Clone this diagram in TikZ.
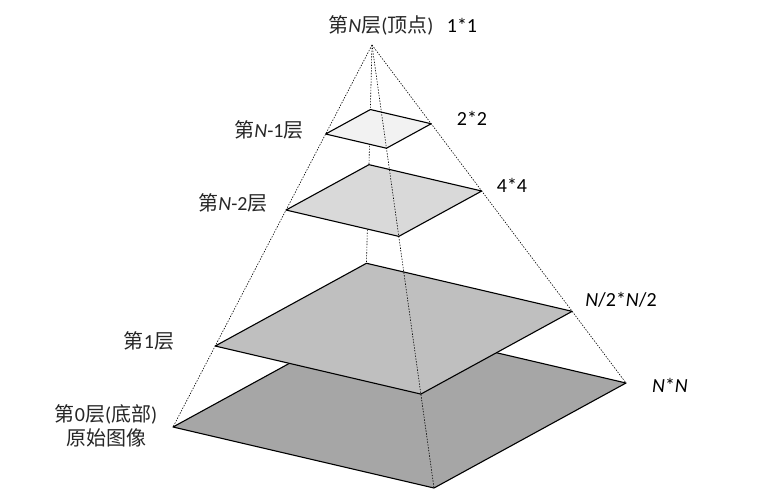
\documentclass[tikz,border=0pt]{standalone}
\usepackage{fontspec}
\setmainfont{Carlito}
\newfontfamily\cjk{Noto Sans CJK SC}
\usetikzlibrary{calc}
\definecolor{g0}{HTML}{A6A6A6}
\definecolor{g1}{HTML}{BFBFBF}
\definecolor{g2}{HTML}{D9D9D9}
\definecolor{g3}{HTML}{F2F2F2}
\begin{document}
\begin{tikzpicture}[x=1pt,y=-1pt,
  face/.style={draw=black,line width=1.1pt,line join=round},
  guide/.style={line width=0.6pt,dash pattern=on 1.4pt off 1.4pt},
  lbl/.style={font=\fontsize{20}{24}\selectfont,text=black!85,inner sep=0pt},
  sizelbl/.style={font=\fontsize{20}{24}\selectfont,inner sep=0pt}]
\useasboundingbox (0,0) rectangle (757,495);
\coordinate (A) at (372,45);
\coordinate (L0) at (173,427);
\coordinate (T0) at (365,322);
\coordinate (R0) at (626,383);
\coordinate (B0) at (434,488);
\foreach \n/\t in {3/0.233,2/0.432,1/0.788}{
  \coordinate (L\n) at ($(A)!\t!(L0)$);
  \coordinate (T\n) at ($(A)!\t!(T0)$);
  \coordinate (R\n) at ($(A)!\t!(R0)$);
  \coordinate (B\n) at ($(A)!\t!(B0)$);
}
% hidden guide to the back corners
\draw[guide] (A) -- (T0);
\draw[guide] (A) -- (L0);
\draw[guide] (A) -- (R0);
% layers
\filldraw[face,fill=g0] (L0) -- (T0) -- (R0) -- (B0) -- cycle;
\filldraw[face,fill=g1] (L1) -- (T1) -- (R1) -- (B1) -- cycle;
\filldraw[face,fill=g2] (L2) -- (T2) -- (R2) -- (B2) -- cycle;
\filldraw[face,fill=g3] (L3) -- (T3) -- (R3) -- (B3) -- cycle;
% front guide
\draw[guide] (A) -- (B0);
% labels
\node[lbl] (ltop) at (381,25) {{\cjk 第}\textit{N}{\cjk 层}({\cjk 顶点})};
\node[sizelbl] (s1) at (462,25) {1*1};
\node[lbl] (l3) at (269,130) {{\cjk 第}\textit{N}-1{\cjk 层}};
\node[sizelbl] (s2) at (472,118) {2*2};
\node[lbl] (l2) at (233,203) {{\cjk 第}\textit{N}-2{\cjk 层}};
\node[sizelbl] (s4) at (512,185) {4*4};
\node[lbl] (l1) at (149,341) {{\cjk 第}1{\cjk 层}};
\node[sizelbl] (sh) at (621,300) {\textit{N}/2*\textit{N}/2};
\node[lbl,align=center] (l0) at (106,426) {{\cjk 第}0{\cjk 层}({\cjk 底部})\\{\cjk 原始图像}};
\node[sizelbl] (sn) at (670,385) {\textit{N}*\textit{N}};
\end{tikzpicture}
\end{document}
